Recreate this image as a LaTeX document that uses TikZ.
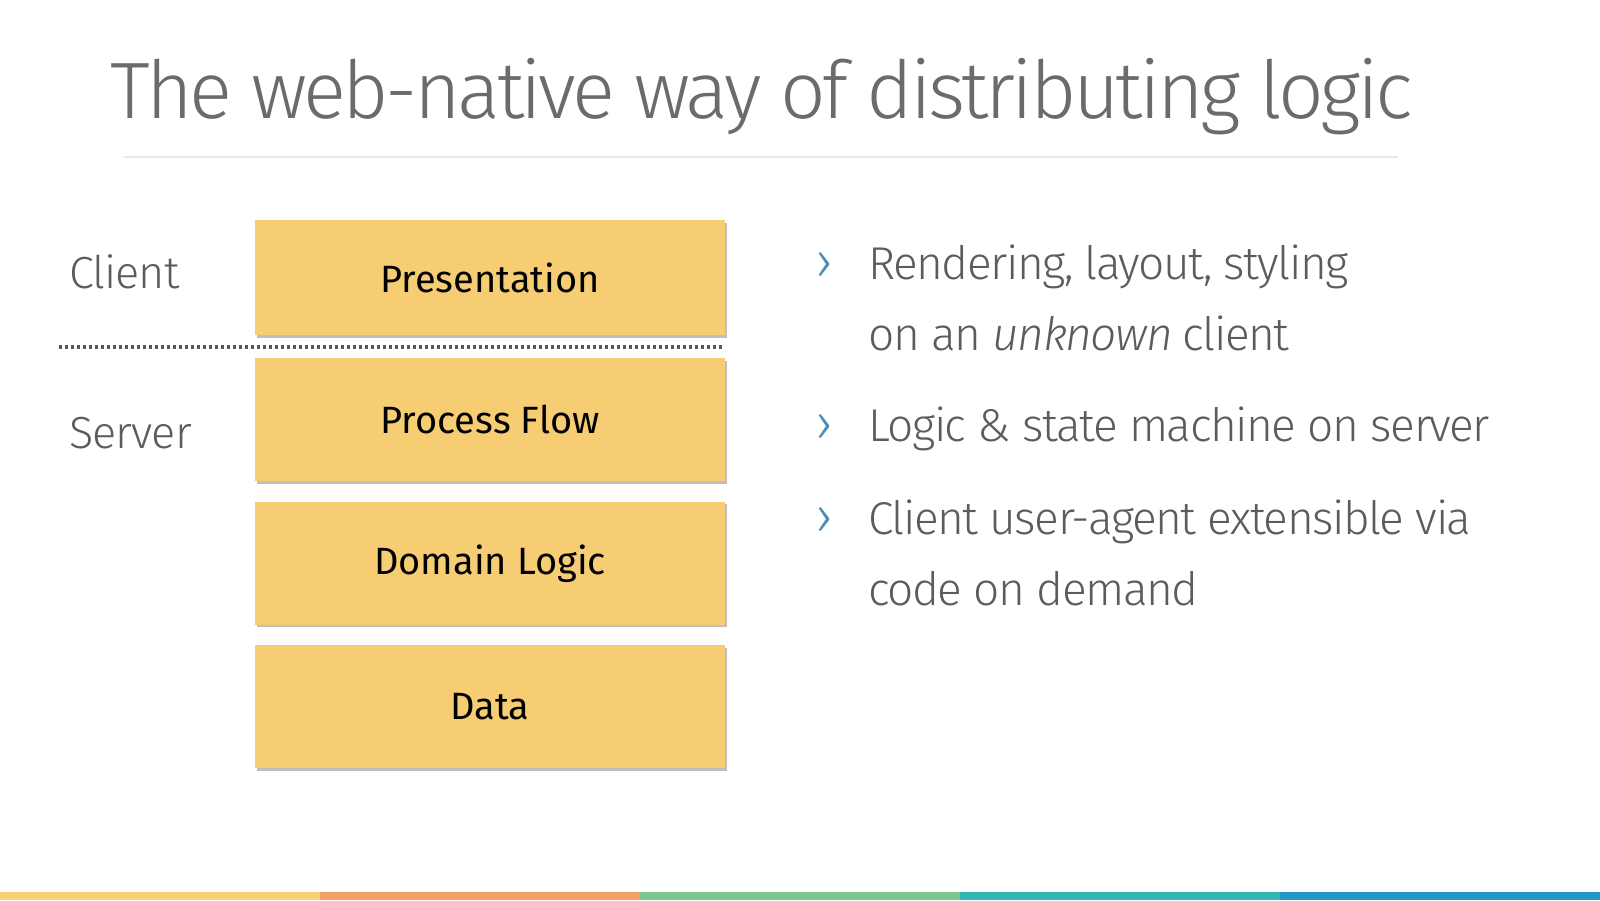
\documentclass[tikz,border=0pt]{standalone}
\usepackage{fontspec}
\setmainfont{Fira Sans}[UprightFont=* Light, ItalicFont=* Light Italic, BoldFont=*]
\newfontfamily\layerfont{Fira Sans}
\usepackage{xcolor}
\usetikzlibrary{positioning, shadows}

\definecolor{titlegray}{HTML}{6B6B6B}
\definecolor{textgray}{HTML}{5C5C5C}
\definecolor{layeryellow}{HTML}{F6CD72}
\definecolor{chevblue}{HTML}{4A8DB7}
\definecolor{rulegray}{HTML}{E8E8E8}
\definecolor{barA}{HTML}{F7D175}
\definecolor{barB}{HTML}{F2A063}
\definecolor{barC}{HTML}{7CC68C}
\definecolor{barD}{HTML}{34B7B2}
\definecolor{barE}{HTML}{2497C6}

\begin{document}
\begin{tikzpicture}[
      x=1pt, y=-1pt,
      layer/.style={fill=layeryellow, minimum width=470pt, minimum height=123pt, inner sep=0pt,
        font=\layerfont\fontsize{38}{44}\selectfont, text=black,
        drop shadow={shadow xshift=1.5pt, shadow yshift=-2.5pt, fill=black!45, opacity=.55}},
      side/.style={anchor=base west, inner sep=0pt, text=textgray,
        font=\fontsize{45}{54}\selectfont\addfontfeature{LetterSpace=-2}},
      point/.style={anchor=base west, inner sep=0pt, text=textgray,
        font=\fontsize{46}{56}\selectfont\addfontfeature{LetterSpace=-3.2}},
      chev/.style={anchor=base west, inner sep=0pt, text=chevblue, font=\fontsize{52}{56}\selectfont},
      sep/.style={draw=black!65, line width=3.2pt, dash pattern=on 3pt off 3pt}
    ]
    \useasboundingbox (0,0) rectangle (1600,900);
    \fill[white] (0,0) rectangle (1600,900);
    %% title and rule
    \node[anchor=base west, inner sep=0pt, text=titlegray,
      font=\fontsize{80}{96}\selectfont\addfontfeature{LetterSpace=-4.4}] (title) at (110,118) {The web-native way of distributing logic};
    \draw[rulegray, line width=1.5pt] (124,157) -- (1398,157);
    %% layer stack
    \node[layer, minimum height=115pt] (pres) at (490,277.5) {Presentation};
    \node[layer, below=23pt of pres] (flow) {Process Flow};
    \node[layer, below=20pt of flow] (domain) {Domain Logic};
    \node[layer, below=20pt of domain] (data) {Data};
    \node[side] (client) at (69,288) {Client};
    \node[side] (server) at (69,448) {Server};
    \coordinate (sepL) at (59,347);
    \coordinate (sepR) at (724,347);
    \draw[sep] (sepL) -- (sepR);
    %% points
    \node[chev] (c1) at (815,279) {›};
    \node[point] (p1a) at (868,279) {Rendering, layout, styling};
    \node[point] (p1b) at (868,350) {on an \textit{unknown} client};
    \node[chev] (c2) at (815,441) {›};
    \node[point] (p2) at (868,441) {Logic \& state machine on server};
    \node[chev] (c3) at (815,534) {›};
    \node[point] (p3a) at (868,534) {Client user-agent extensible via};
    \node[point] (p3b) at (868,605) {code on demand};
    %% colour bar
    \fill[barA] (0,892) rectangle (320,900);
    \fill[barB] (320,892) rectangle (640,900);
    \fill[barC] (640,892) rectangle (960,900);
    \fill[barD] (960,892) rectangle (1280,900);
    \fill[barE] (1280,892) rectangle (1600,900);
  \end{tikzpicture}
\end{document}
